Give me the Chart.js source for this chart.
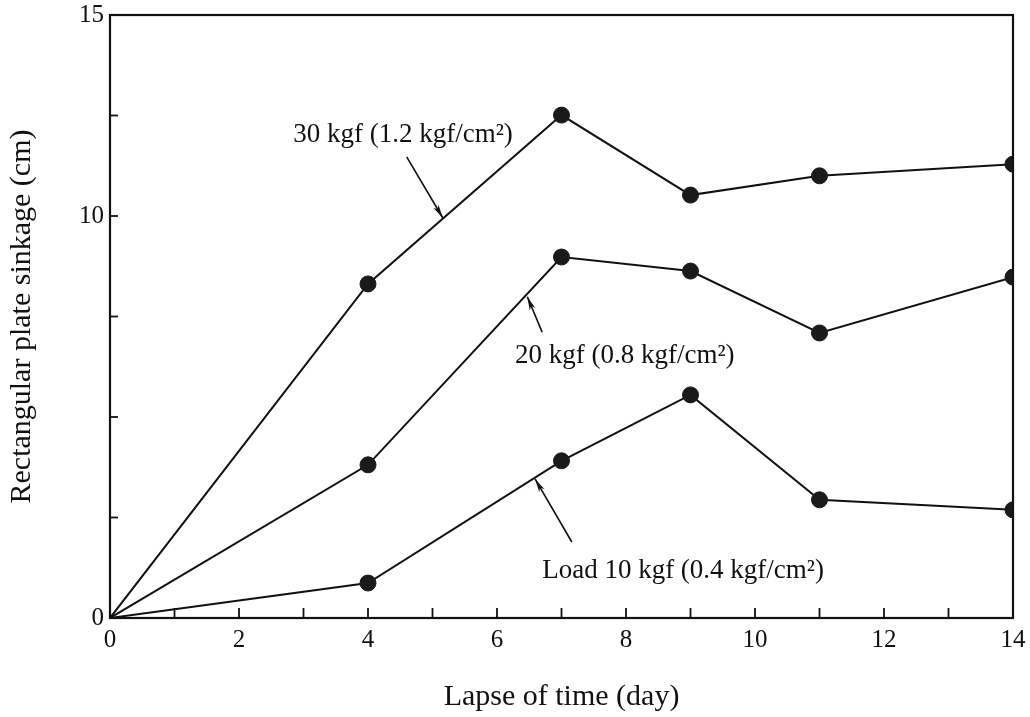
<!DOCTYPE html>
<html>
<head>
<meta charset="utf-8">
<script src="https://cdn.jsdelivr.net/npm/chart.js@4/dist/chart.umd.min.js"></script>
<style>
html,body{margin:0;padding:0;background:#fff;}
#wrap{width:1030px;height:717px;}
</style>
</head>
<body>
<div id="wrap"><canvas id="c" width="1030" height="717"></canvas></div>
<script>
// ---- data ----
const days = [0, 4, 7, 9, 11, 14];
const sink30 = [0, 8.31, 12.51, 10.52, 11.00, 11.29];
const sink20 = [0, 3.81, 8.98, 8.63, 7.09, 8.48];
const sink10 = [0, 0.87, 3.91, 5.55, 2.94, 2.69];
const xLabeled = [0, 2, 4, 6, 8, 10, 12, 14];
const yLabeled = [0, 10, 15];
const seriesNames = ["30 kgf (1.2 kgf/cm²)", "20 kgf (0.8 kgf/cm²)", "Load 10 kgf (0.4 kgf/cm²)"];
// annotation anchors in data units: text [x, y], arrow tail [x, y], arrow tip [x, y]
const labelText = [[2.84, 11.84], [6.28, 6.34], [6.70, 1.00]];
const arrowTail = [[4.60, 11.47], [6.70, 7.11], [7.16, 1.89]];
const arrowTip  = [[5.16, 9.95], [6.47, 7.99], [6.59, 3.46]];

const FONT = "'Liberation Serif', 'Times New Roman', serif";

function pts(ys){ return days.map((d,i)=>({x:d, y:ys[i]})); }

const mk = (ys) => ({
  data: pts(ys),
  showLine: true,
  borderColor: '#111',
  borderWidth: 2,
  pointRadius: (ctx) => ctx.dataIndex === 0 ? 0 : 8,
  pointBackgroundColor: '#1a1a1a',
  pointBorderColor: '#1a1a1a',
  pointBorderWidth: 1,
  tension: 0
});

const framePlugin = {
  id: 'frame',
  afterDatasetsDraw(chart) {
    const {ctx, chartArea: a, scales: {x, y}} = chart;
    ctx.save();
    ctx.strokeStyle = '#111';
    ctx.lineWidth = 2.2;
    ctx.strokeRect(a.left, a.top, a.right - a.left, a.bottom - a.top);
    ctx.lineWidth = 1.8;
    x.ticks.forEach(t => {
      const px = x.getPixelForValue(t.value);
      ctx.beginPath(); ctx.moveTo(px, a.bottom); ctx.lineTo(px, a.bottom - 10); ctx.stroke();
    });
    y.ticks.forEach(t => {
      const py = y.getPixelForValue(t.value);
      ctx.beginPath(); ctx.moveTo(a.left, py); ctx.lineTo(a.left + 8, py); ctx.stroke();
    });
    ctx.fillStyle = '#111';
    ctx.font = "27px " + FONT;
    ctx.textBaseline = 'alphabetic';
    ctx.textAlign = 'left';
    seriesNames.forEach((name, i) => {
      ctx.fillText(name, x.getPixelForValue(labelText[i][0]), y.getPixelForValue(labelText[i][1]));
      const x0 = x.getPixelForValue(arrowTail[i][0]), y0 = y.getPixelForValue(arrowTail[i][1]);
      const x1 = x.getPixelForValue(arrowTip[i][0]), y1 = y.getPixelForValue(arrowTip[i][1]);
      ctx.lineWidth = 1.6;
      ctx.beginPath(); ctx.moveTo(x0, y0); ctx.lineTo(x1, y1); ctx.stroke();
      const ang = Math.atan2(y1 - y0, x1 - x0);
      const L = 14, W = 0.22;
      ctx.beginPath();
      ctx.moveTo(x1, y1);
      ctx.lineTo(x1 - L * Math.cos(ang - W), y1 - L * Math.sin(ang - W));
      ctx.lineTo(x1 - L * 0.7 * Math.cos(ang), y1 - L * 0.7 * Math.sin(ang));
      ctx.lineTo(x1 - L * Math.cos(ang + W), y1 - L * Math.sin(ang + W));
      ctx.closePath();
      ctx.fill();
    });
    ctx.restore();
  }
};

new Chart(document.getElementById('c'), {
  type: 'scatter',
  data: { datasets: [mk(sink30), mk(sink20), mk(sink10)] },
  options: {
    responsive: false,
    animation: false,
    layout: { padding: { top: 15, right: 17, left: 0, bottom: 0 } },
    plugins: { legend: { display: false }, tooltip: { enabled: false } },
    scales: {
      x: {
        type: 'linear', min: 0, max: 14,
        border: { display: false },
        grid: { display: false, drawTicks: false },
        ticks: {
          stepSize: 1, padding: 7, color: '#111',
          font: { family: FONT, size: 25 },
          autoSkip: false, maxRotation: 0,
          callback: (v) => xLabeled.includes(v) ? String(v) : ''
        },
        title: { display: true, text: 'Lapse of time (day)', color: '#111',
                 font: { family: FONT, size: 30 }, padding: { top: 4, bottom: 2 } },
        afterFit: (s) => { s.height = 99; s.paddingLeft = 0; s.paddingRight = 0; }
      },
      y: {
        type: 'linear', min: 0, max: 15,
        border: { display: false },
        grid: { display: false, drawTicks: false },
        ticks: {
          stepSize: 2.5, padding: 6, color: '#111',
          font: { family: FONT, size: 25 },
          autoSkip: false,
          callback: (v) => yLabeled.includes(v) ? String(v) : ''
        },
        title: { display: true, text: 'Rectangular plate sinkage (cm)', color: '#111',
                 font: { family: FONT, size: 30 }, padding: { top: 4, bottom: 4 } },
        afterFit: (s) => { s.width = 110; s.paddingTop = 0; s.paddingBottom = 0; }
      }
    }
  },
  plugins: [framePlugin]
});
</script>
</body>
</html>
